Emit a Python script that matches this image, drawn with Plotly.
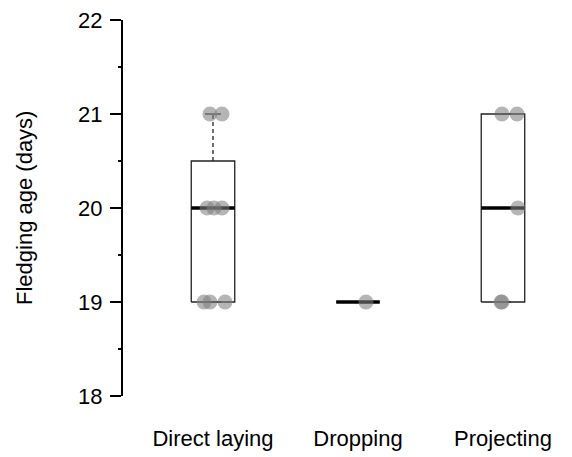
import numpy as np
import plotly.graph_objects as go

categories = ["Direct laying", "Dropping", "Projecting"]
direct_laying = [19, 19, 19, 20, 20, 20, 21, 21]
dropping = [19]
projecting = [19, 19, 20, 21, 21]
# horizontal jitter (category units)
jitter_direct = [-0.062, -0.021, 0.083, -0.041, 0.007, 0.062, -0.021, 0.062]
jitter_dropping = [0.055]
jitter_projecting = [-0.007, -0.014, 0.103, -0.007, 0.097]
y_ticks = [18, 19, 20, 21, 22]

groups = [direct_laying, dropping, projecting]
jitters = [jitter_direct, jitter_dropping, jitter_projecting]


def fivenum(vals):
    x = np.sort(np.asarray(vals, dtype=float))
    n = len(x)
    n4 = np.floor((n + 3) / 2) / 2
    d = np.array([1, n4, (n + 1) / 2, n + 1 - n4, n]) - 1
    return 0.5 * (x[np.floor(d).astype(int)] + x[np.ceil(d).astype(int)])


BOX_HALF = 0.15
CAP_HALF = 0.055
FONT = "Liberation Sans, Arial, sans-serif"
FS = 22

fig = go.Figure()

for i, vals in enumerate(groups):
    mn, q1, med, q3, mx = fivenum(vals)
    iqr = q3 - q1
    arr = np.asarray(vals, dtype=float)
    hi = arr[arr <= q3 + 1.5 * iqr].max()
    lo = arr[arr >= q1 - 1.5 * iqr].min()
    # box outline
    fig.add_trace(go.Scatter(
        x=[i - BOX_HALF, i + BOX_HALF, i + BOX_HALF, i - BOX_HALF, i - BOX_HALF],
        y=[q1, q1, q3, q3, q1], mode="lines",
        line=dict(color="#222222", width=1.3), hoverinfo="skip", showlegend=False))
    # whiskers
    if hi > q3:
        fig.add_trace(go.Scatter(x=[i, i], y=[q3, hi], mode="lines",
                                 line=dict(color="#222222", width=1.3, dash="4px,3px"),
                                 hoverinfo="skip", showlegend=False))
    if lo < q1:
        fig.add_trace(go.Scatter(x=[i, i], y=[q1, lo], mode="lines",
                                 line=dict(color="#222222", width=1.3, dash="4px,3px"),
                                 hoverinfo="skip", showlegend=False))
    for v in (hi, lo):
        fig.add_trace(go.Scatter(x=[i - CAP_HALF, i + CAP_HALF], y=[v, v], mode="lines",
                                 line=dict(color="#222222", width=1.3),
                                 hoverinfo="skip", showlegend=False))
    # median
    fig.add_trace(go.Scatter(x=[i - BOX_HALF, i + BOX_HALF], y=[med, med], mode="lines",
                             line=dict(color="black", width=3.4),
                             hoverinfo="skip", showlegend=False))

for i, (vals, jit) in enumerate(zip(groups, jitters)):
    fig.add_trace(go.Scatter(
        x=[i + j for j in jit], y=vals, mode="markers",
        marker=dict(size=15, color="rgba(128,128,128,0.58)", line=dict(width=0)),
        showlegend=False))

# page body has an 8px margin; the figure is sized to fit inside the window
fig.update_layout(
    width=564, height=449,
    margin=dict(l=115, r=0, t=12, b=61),
    paper_bgcolor="white", plot_bgcolor="white",
    font=dict(family=FONT, size=FS, color="black"),
    xaxis=dict(range=[-0.6207, 2.476], tickmode="array", tickvals=[0, 1, 2],
               ticktext=categories, showline=False, ticks="", showgrid=False,
               zeroline=False, ticklabelstandoff=27,
               tickfont=dict(family=FONT, size=FS, color="black")),
    yaxis=dict(range=[18, 22], tickmode="array", tickvals=y_ticks,
               ticktext=[str(t) for t in y_ticks],
               showline=True, linecolor="black", linewidth=2,
               ticks="outside", ticklen=11, tickwidth=1.5, tickcolor="black",
               minor=dict(tickmode="array", tickvals=[18.5, 19.5, 20.5, 21.5],
                          ticks="outside", ticklen=3, tickwidth=1.5, tickcolor="black"),
               showgrid=False, zeroline=False, ticklabelstandoff=3,
               ticklabeloverflow="allow",
               tickfont=dict(family=FONT, size=FS, color="black")),
    annotations=[dict(text="Fledging age (days)", textangle=-90, xref="paper", yref="paper",
                      x=-(115 - 16) / 449, y=0.5, xanchor="center", yanchor="middle",
                      showarrow=False, font=dict(family=FONT, size=FS, color="black"))],
)

fig.write_html("out.html")
